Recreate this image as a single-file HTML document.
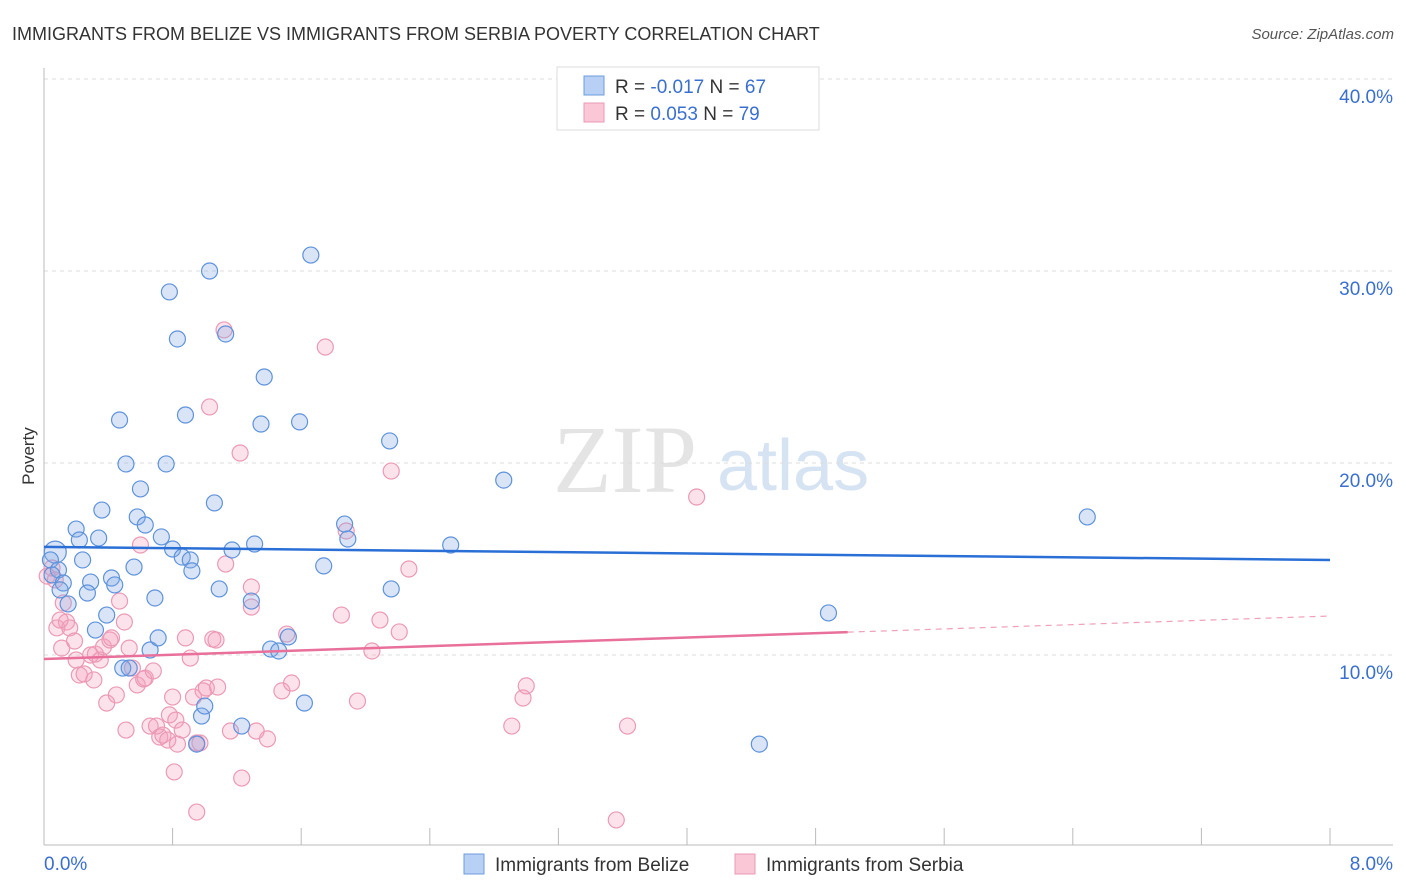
<!DOCTYPE html>
<html><head><meta charset="utf-8"><style>
body{margin:0;background:#fff;font-family:"Liberation Sans",sans-serif;}
svg{display:block}
</style></head><body>
<svg id="chart" width="1406" height="892">
<text x="12" y="40" font-size="18" fill="#333">IMMIGRANTS FROM BELIZE VS IMMIGRANTS FROM SERBIA POVERTY CORRELATION CHART</text>
<text x="1394" y="39" font-size="15" fill="#555" font-style="italic" text-anchor="end">Source: ZipAtlas.com</text>
<g>
<text x="553" y="492" font-size="96" font-family="Liberation Serif,serif" fill="#e4e4e4">ZIP</text>
<text x="717" y="490" font-size="72" fill="#d6e3f3">atlas</text>
</g>
<g id="grid"></g>
<g id="axes"></g>
<g id="pts"></g>
<g id="trends"></g>
<text x="34" y="456" font-size="17" fill="#333" transform="rotate(-90 34 456)" text-anchor="middle">Poverty</text>
<g>
<rect x="557" y="67" width="262" height="63" fill="#fff" stroke="#ddd"/>
<rect x="584" y="76" width="20" height="19" fill="#b7d0f3" stroke="#6f9bdc"/>
<rect x="584" y="103" width="20" height="19" fill="#f9c7d6" stroke="#e99ab4"/>
<text x="615" y="93" font-size="19" fill="#333">R = <tspan fill="#3a6fd0">-0.017</tspan>   N = <tspan fill="#3a6fd0">67</tspan></text>
<text x="615" y="120" font-size="19" fill="#333">R =  <tspan fill="#3a6fd0">0.053</tspan>   N = <tspan fill="#3a6fd0">79</tspan></text>
</g>
<g>
<rect x="464" y="854" width="20" height="20" fill="#b7d0f3" stroke="#6f9bdc"/>
<text x="495" y="871" font-size="19" fill="#333">Immigrants from Belize</text>
<rect x="735" y="854" width="20" height="20" fill="#f9c7d6" stroke="#e99ab4"/>
<text x="766" y="871" font-size="19" fill="#333">Immigrants from Serbia</text>
</g>
</svg>
<script>
const yTicks=[10,20,30,40];
const xTickLabels=["0.0%","8.0%"];
const belizeX=[0.07,0.04,0.09,0.05,0.12,0.10,0.15,0.20,0.22,0.24,0.29,0.27,0.32,0.34,0.36,0.39,0.42,0.44,0.47,0.49,0.51,0.53,0.56,0.58,0.60,0.63,0.66,0.69,0.71,0.73,0.76,0.78,0.80,0.83,0.86,0.88,0.91,0.92,0.98,1.00,0.95,1.03,1.06,1.09,1.13,1.17,1.23,1.29,1.31,1.35,1.37,1.41,1.46,1.52,1.59,1.62,1.66,1.74,1.87,1.89,2.15,2.16,2.53,2.86,4.45,4.88,6.49];
const belizeY=[15.36,14.95,14.43,14.17,13.75,13.39,12.66,16.56,15.99,14.95,13.80,13.23,11.30,16.09,17.55,12.08,14.01,13.65,22.24,9.32,19.95,9.32,14.58,17.19,18.65,16.77,10.26,12.97,10.89,16.15,19.95,28.91,15.52,26.46,15.10,22.50,14.95,14.38,6.82,7.34,5.36,30.00,17.92,13.44,26.72,15.47,6.30,12.81,15.78,22.03,24.48,10.31,10.21,10.94,22.14,7.50,30.83,14.64,16.82,16.04,21.15,13.44,15.73,19.11,5.36,12.19,17.19];
const serbiaX=[0.02,0.05,0.07,0.08,0.11,0.12,0.14,0.16,0.19,0.20,0.22,0.25,0.29,0.31,0.32,0.35,0.37,0.39,0.41,0.42,0.45,0.47,0.50,0.51,0.53,0.55,0.58,0.60,0.62,0.63,0.66,0.68,0.70,0.72,0.74,0.77,0.78,0.80,0.82,0.83,0.86,0.88,0.91,0.93,0.95,0.97,0.99,1.01,1.03,1.05,1.07,1.08,1.12,1.13,1.16,1.22,1.23,1.29,1.29,1.32,1.39,1.48,1.51,1.54,1.75,1.85,1.88,1.95,2.04,2.09,2.16,2.21,2.27,2.91,2.98,3.00,3.56,3.63,4.06,0.81,0.95,0.10];
const serbiaY=[14.11,14.53,13.91,11.41,10.36,12.71,11.72,11.41,10.73,9.74,8.96,9.01,10.00,8.70,10.05,9.74,10.42,7.50,10.78,10.89,7.92,12.81,11.72,6.09,10.36,9.32,8.44,15.73,8.75,8.80,6.30,9.17,6.30,5.73,5.83,5.57,6.88,7.81,6.61,5.36,6.09,10.89,9.84,7.81,5.42,5.42,8.13,8.28,22.92,10.83,10.78,8.33,26.93,14.74,6.04,20.52,3.59,13.54,12.50,6.04,5.63,8.13,11.09,8.54,26.04,12.08,16.46,7.60,10.21,11.82,19.58,11.20,14.48,6.30,7.76,8.39,1.41,6.30,18.23,3.91,1.82,11.82];
const belizeTrend=[15.63,14.95];
const serbiaTrend=[9.79,12.03];
const serbiaSolidEnd=5.0;

const NS="http://www.w3.org/2000/svg";
const X0=44,X1=1330,Y0=847,PY=19.2;
const sx=v=>X0+(v/8)*(X1-X0);
const sy=v=>Y0-v*PY;
function mk(tag,attrs,parent){const e=document.createElementNS(NS,tag);for(const k in attrs)e.setAttribute(k,attrs[k]);parent.appendChild(e);return e;}
const grid=document.getElementById('grid'),axes=document.getElementById('axes');
yTicks.forEach(t=>{
 const l=mk('line',{x1:44,x2:1393,y1:sy(t),y2:sy(t),stroke:'#ddd','stroke-dasharray':'4 4'},grid);
 
 
 const tx=mk('text',{x:1393,y:sy(t)+24,'font-size':19,fill:'#3a6fd0','text-anchor':'end'},grid);
 tx.textContent=t.toFixed(1)+'%';
 
 
});
mk('line',{x1:44,x2:44,y1:68,y2:845,stroke:'#bbb'},axes);
mk('line',{x1:44,x2:1393,y1:845,y2:845,stroke:'#bbb'},axes);
for(let i=1;i<=10;i++){const x=sx(i*0.8);const t=mk('line',{x1:x,x2:x,y1:828,y2:845,stroke:'#bbb'},axes);
 
 }
const xl0=mk('text',{x:44,y:870,'font-size':19,fill:'#3a6fd0'},axes);xl0.textContent=xTickLabels[0];


const xl1=mk('text',{x:1393,y:870,'font-size':19,fill:'#3a6fd0','text-anchor':'end'},axes);xl1.textContent=xTickLabels[1];


const pts=document.getElementById('pts');
serbiaX.forEach((x,i)=>{const c=mk('circle',{cx:sx(x),cy:sy(serbiaY[i]),r:8,fill:'rgba(244,160,190,0.3)',stroke:'#eb9ab5','stroke-width':1.2},pts);
 
 });
belizeX.forEach((x,i)=>{const c=mk('circle',{cx:sx(x),cy:sy(belizeY[i]),r:i==0?11:8,fill:'rgba(130,170,230,0.3)',stroke:'#5e92db','stroke-width':1.2},pts);
 
 });
const tr=document.getElementById('trends');
const bl=mk('line',{x1:sx(0),y1:sy(belizeTrend[0]),x2:sx(8),y2:sy(belizeTrend[1]),stroke:'#2a6fd6','stroke-width':2.5},tr);


const pe=serbiaTrend[0]+(serbiaTrend[1]-serbiaTrend[0])*serbiaSolidEnd/8;
const pl=mk('line',{x1:sx(0),y1:sy(serbiaTrend[0]),x2:sx(serbiaSolidEnd),y2:sy(pe),stroke:'#e8709a','stroke-width':2.5},tr);


const pd=mk('line',{x1:sx(serbiaSolidEnd),y1:sy(pe),x2:sx(8),y2:sy(serbiaTrend[1]),stroke:'#eea0b8','stroke-width':1.2,'stroke-dasharray':'6 5'},tr);


</script>
</body></html>
